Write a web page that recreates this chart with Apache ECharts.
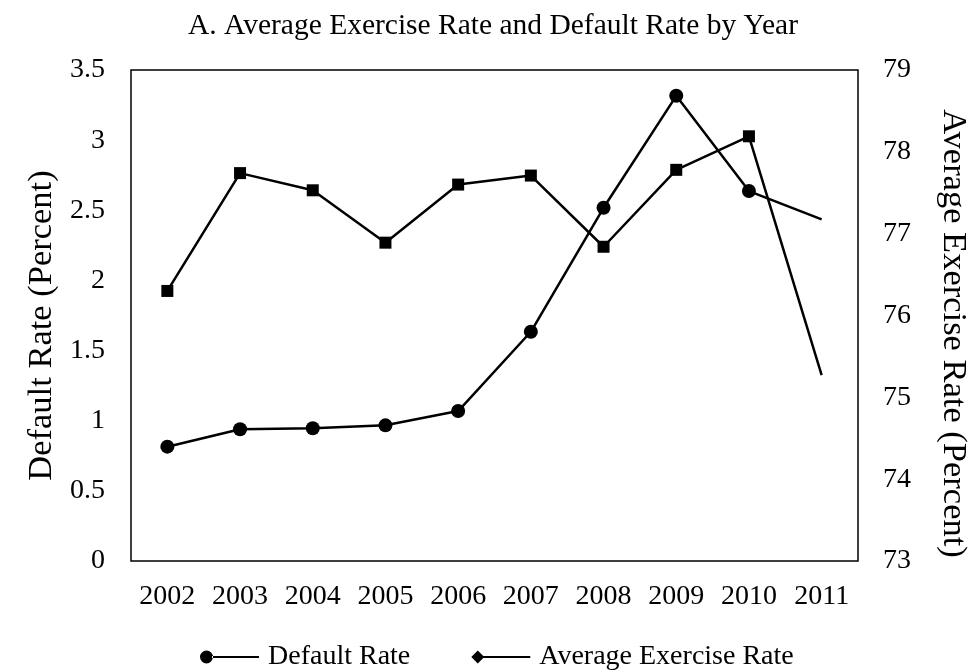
<!DOCTYPE html>
<html>
<head>
<meta charset="utf-8">
<script src="https://cdn.jsdelivr.net/npm/echarts@6/dist/echarts.min.js"></script>
<style>
  html, body { margin: 0; padding: 0; background: #fff; }
  #chart { width: 969px; height: 670px; }
</style>
</head>
<body>
<div id="chart"></div>
<script>
const years = ['2002', '2003', '2004', '2005', '2006', '2007', '2008', '2009', '2010', '2011']
const defaultRate = [0.815, 0.939, 0.946, 0.967, 1.069, 1.634, 2.518, 3.316, 2.637, 2.435]
const exerciseRate = [76.30, 77.74, 77.53, 76.89, 77.60, 77.71, 76.84, 77.78, 78.19, 75.27]

const font = 'Liberation Serif'
const circleIcon = 'path://M0,6.5 a6.5,6.5 0 1,0 13,0 a6.5,6.5 0 1,0 -13,0 Z M12,5.6 L59,5.6 L59,7.4 L12,7.4 Z'
const diamondIcon = 'path://M0,6.5 L6.5,0 L13,6.5 L6.5,13 Z M12,5.6 L59,5.6 L59,7.4 L12,7.4 Z'

// last point has no marker in the original
const noLastMarker = (arr) => arr.map((v, i) => i === arr.length - 1 ? { value: v, symbol: 'none' } : v)

const chart = echarts.init(document.getElementById('chart'))
chart.setOption({
  animation: false,
  title: {
    text: 'A. Average Exercise Rate and Default Rate by Year',
    left: 183,
    top: 6,
    textStyle: { fontFamily: font, fontSize: 29.5, fontWeight: 'normal', color: '#000' }
  },
  legend: {
    top: 638,
    left: 195,
    itemWidth: 59,
    itemHeight: 13,
    itemGap: 61,
    textStyle: { fontFamily: font, fontSize: 28, color: '#000', padding: [0, 0, 0, 4] },
    data: [
      { name: 'Default Rate', icon: circleIcon },
      { name: 'Average Exercise Rate', icon: diamondIcon }
    ]
  },
  grid: {
    left: 131,
    right: 111,
    top: 70,
    bottom: 109,
    outerBoundsMode: 'none',
    containLabel: false,
    show: true,
    borderColor: '#000',
    borderWidth: 1.5
  },
  xAxis: {
    type: 'category',
    data: years,
    axisLine: { show: false },
    axisTick: { show: false },
    axisLabel: { fontFamily: font, fontSize: 28, color: '#000', margin: 22, interval: 0 }
  },
  yAxis: [
    {
      type: 'value',
      min: 0,
      max: 3.5,
      interval: 0.5,
      name: 'Default Rate (Percent)',
      nameLocation: 'middle',
      nameGap: 64,
      nameRotate: 90,
      nameTextStyle: { fontFamily: font, fontSize: 34.5, color: '#000', padding: [0, 20, 0, 0] },
      axisLine: { show: false },
      axisTick: { show: false },
      splitLine: { show: false },
      axisLabel: { fontFamily: font, fontSize: 28, color: '#000', margin: 26 }
    },
    {
      type: 'value',
      min: 73,
      max: 79,
      interval: 1,
      name: 'Average Exercise Rate (Percent)',
      nameLocation: 'middle',
      nameGap: 78,
      nameRotate: -90,
      nameTextStyle: { fontFamily: font, fontSize: 34.5, color: '#000', padding: [0, 0, 0, 36] },
      axisLine: { show: false },
      axisTick: { show: false },
      splitLine: { show: false },
      axisLabel: { fontFamily: font, fontSize: 28, color: '#000', margin: 25 }
    }
  ],
  series: [
    {
      name: 'Default Rate',
      type: 'line',
      yAxisIndex: 0,
      data: noLastMarker(defaultRate),
      symbol: 'circle',
      symbolSize: 14,
      showAllSymbol: true,
      lineStyle: { color: '#000', width: 2.5 },
      itemStyle: { color: '#000' }
    },
    {
      name: 'Average Exercise Rate',
      type: 'line',
      yAxisIndex: 1,
      data: noLastMarker(exerciseRate),
      symbol: 'rect',
      symbolSize: 12,
      showAllSymbol: true,
      lineStyle: { color: '#000', width: 2.5 },
      itemStyle: { color: '#000' }
    }
  ]
})
</script>
</body>
</html>
